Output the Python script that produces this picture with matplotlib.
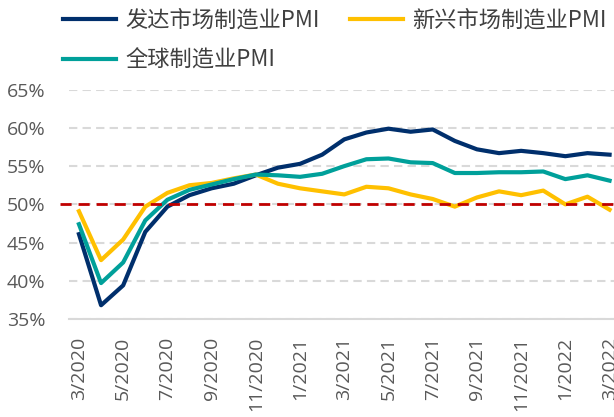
import matplotlib.pyplot as plt
import numpy as np

# monthly PMI readings, 3/2020 .. 3/2022
developed = [46.1, 36.8, 39.4, 46.4, 49.7, 51.2, 52.1, 52.7, 53.8, 54.8, 55.3, 56.5, 58.5,
             59.4, 59.9, 59.5, 59.8, 58.3, 57.2, 56.7, 57.0, 56.7, 56.3, 56.7, 56.5]
emerging = [49.1, 42.7, 45.4, 49.7, 51.5, 52.5, 52.8, 53.4, 53.9, 52.7, 52.1, 51.7, 51.3,
            52.3, 52.1, 51.3, 50.7, 49.7, 50.9, 51.7, 51.2, 51.8, 50.0, 51.0, 49.3]
global_pmi = [47.4, 39.7, 42.4, 47.9, 50.6, 51.9, 52.6, 53.3, 53.9, 53.8, 53.6, 54.0, 55.0,
              55.9, 56.0, 55.5, 55.4, 54.1, 54.1, 54.2, 54.2, 54.3, 53.3, 53.8, 53.1]
tick_labels = ["3/2020", "5/2020", "7/2020", "9/2020", "11/2020", "1/2021", "3/2021",
               "5/2021", "7/2021", "9/2021", "11/2021", "1/2022", "3/2022"]
yticks = [35, 40, 45, 50, 55, 60, 65]

fig = plt.figure(figsize=(6.14, 4.17), dpi=100)
ax = fig.add_axes([69 / 614, 1 - 319 / 417, 1 - 69 / 614, (319 - 89.7) / 417])

x = np.arange(len(developed))
l1, = ax.plot(x, developed, color="#002F6C", lw=3, label="发达市场制造业PMI")
l2, = ax.plot(x, emerging, color="#FFC000", lw=3, label="新兴市场制造业PMI")
l3, = ax.plot(x, global_pmi, color="#00A09A", lw=3, label="全球制造业PMI")
ax.axhline(50, xmin=-0.016, color="#C00000", lw=2, ls=(0, (4, 2.5)), clip_on=False, zorder=4)

ax.set_xlim(-0.45, 24.2)
ax.set_ylim(35, 65)
ax.set_yticks(yticks)
ax.set_yticklabels([f"{v}%" for v in yticks])
ax.set_xticks(x[::2])
ax.set_xticklabels(tick_labels, rotation=90)
ax.yaxis.grid(True, color="#D9D9D9", lw=1.5, ls=(0, (4, 2.5)))
ax.set_axisbelow(True)
for s in ["left", "right", "top"]:
    ax.spines[s].set_visible(False)
ax.spines["bottom"].set_color("#D9D9D9")
ax.spines["bottom"].set_linewidth(1.5)
ax.tick_params(axis="x", length=0, pad=13, labelsize=14, labelcolor="#595959")
ax.tick_params(axis="y", length=0, pad=17, labelsize=14, labelcolor="#595959")
for t in ax.get_xticklabels() + ax.get_yticklabels():
    t.set_fontfamily("Open Sans")

# legend fills column-wise, so order handles to read row-wise like the original
fig.legend(handles=[l1, l3, l2], ncol=2, loc="upper left", bbox_to_anchor=(63 / 614, 1 - 9 / 417),
           frameon=False, borderpad=0, borderaxespad=0, handlelength=2.4, handletextpad=0.4,
           columnspacing=1.35, labelspacing=0.75,
           prop={"family": ["Noto Sans CJK SC", "DejaVu Sans"], "size": 16}, labelcolor="#404040")

fig.savefig("out.png", dpi=100)
